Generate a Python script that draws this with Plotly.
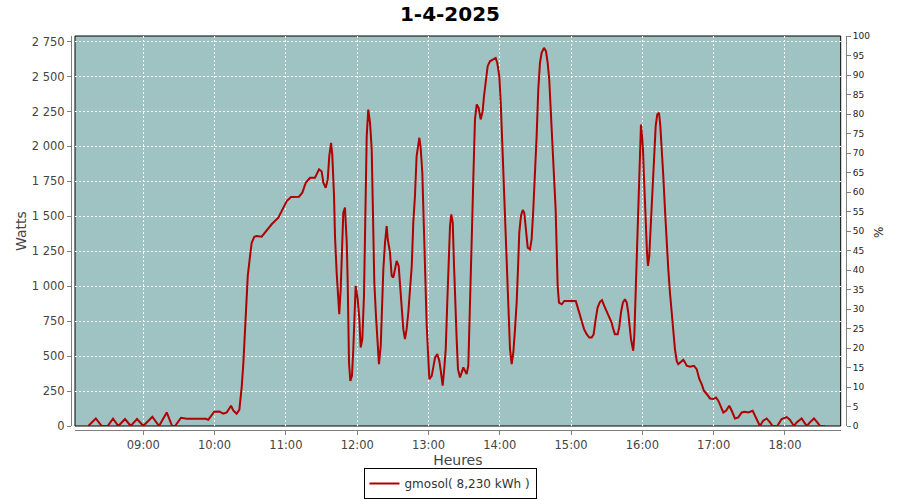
import pandas as pd
import plotly.graph_objects as go

# minutes since midnight (1-4-2025)
minutes = [
    493.7, 500, 505, 510, 514.5, 519, 524.6, 529.4, 534.7, 540,
    547.6, 553.2, 559.7, 564.2, 566.7, 571.7, 576.5, 592.5, 594.7, 599.7,
    603.9, 607.3, 610.2, 613.8, 615.7, 618.5, 620.8, 622.8, 624.2, 626.2,
    627.9, 629.8, 631.2, 633.4, 635.4, 639.6, 642.4, 648, 653.6, 657.8,
    660.7, 664.3, 671, 673.8, 676.7, 680.3, 684.5, 687.9, 690.1, 691.5,
    693.5, 695.2, 696.5, 698, 699, 700.5, 701.3, 702.7, 704.1, 704.9,
    706.1, 707, 708.3, 709.7, 711.2, 712, 713.1, 714.2, 715.6, 716.7,
    717.6, 718.7, 720.4, 721.8, 722.9, 724.3, 725.7, 726.6, 728, 729.3,
    730.8, 732.2, 733.3, 734.4, 735.8, 737.2, 738.3, 739.8, 740.6, 742,
    743.4, 744.8, 745.7, 747.6, 749, 750.4, 751.8, 753.2, 754.9, 756,
    757.4, 758.8, 760.2, 761.6, 763, 764.4, 765.9, 767.2, 768.6, 770,
    771.4, 772.3, 773.4, 774.8, 775.6, 776.5, 777.6, 778.5, 779.6, 780.7,
    782.7, 784, 785.5, 787.4, 789.1, 790.5, 791.9, 793, 794.5, 795.8,
    797, 798.1, 799.2, 800.4, 801.5, 802.5, 803.7, 804.8, 806.5, 807.9,
    809.3, 810.7, 812.1, 813.5, 814.3, 815.5, 816.6, 817.7, 819.1, 820.6,
    822.2, 823.9, 825.6, 826.7, 828.4, 829.8, 831.7, 834.5, 836.5, 837.9,
    839.6, 840.8, 841.8, 842.9, 844.4, 845.2, 846.3, 847.5, 848.6, 850,
    851.4, 852.8, 854.2, 855.3, 856.4, 857.8, 859.3, 860.6, 862, 863.5,
    865.4, 866.8, 868.2, 869.6, 871, 872.4, 873.8, 875.2, 877.2, 878.9,
    880.3, 881.6, 883.1, 884.5, 885.6, 887, 887.9, 888.7, 889.8, 892.1,
    894.3, 896.3, 899.1, 901.8, 903.9, 905.6, 907.5, 908.9, 910.9, 913.1,
    915.3, 917.3, 919, 920.7, 922.3, 924.3, 926, 927.9, 929.9, 932.1,
    934.1, 935.5, 936.9, 939.2, 940.5, 942, 943.6, 945.3, 946.8, 948.1,
    949.3, 950.4, 951.5, 952.3, 953.2, 953.8, 954.6, 955.4, 956.3, 957.1,
    958, 958.8, 959.7, 960.5, 961.3, 962.2, 963, 963.9, 964.7, 965.8,
    966.6, 967.8, 968.7, 969.8, 971.2, 972.5, 974, 975.1, 976.3, 977.6,
    979, 980.4, 981.8, 983.2, 984.6, 986, 987.4, 988.9, 990.2, 991.9,
    994.4, 995.9, 997.3, 1000.1, 1003.4, 1005.7, 1007.9, 1009.9, 1011.8, 1014.1,
    1016.9, 1019.7, 1021.9, 1023.9, 1025.9, 1028.1, 1030.4, 1033.1, 1035.2, 1037.9,
    1040.7, 1043.6, 1046.3, 1049.1, 1052.8, 1054.8, 1057, 1058.9, 1061.7, 1064.6,
    1067.4, 1069.6, 1073.5, 1077.2, 1081.4, 1084.1, 1087.6, 1089.8, 1094, 1098.3,
    1101, 1104.4, 1107.2, 1109.5, 1113.6,
]

watts = [
    0, 54, 0, 0, 52, 0, 50, 0, 50, 0,
    66, 0, 97, 0, 0, 59, 52, 52, 45, 102,
    104, 88, 97, 145, 112, 88, 116, 280, 450, 750,
    1074, 1216, 1311, 1354, 1359, 1354, 1383, 1443, 1490, 1562,
    1609, 1638, 1640, 1669, 1740, 1776, 1776, 1836, 1821, 1740,
    1704, 1764, 1931, 2026, 1943, 1645, 1359, 1097, 907, 800,
    979, 1264, 1526, 1562, 1311, 1026, 454, 323, 359, 550,
    740, 1002, 907, 764, 562, 621, 931, 1336, 2074, 2264,
    2169, 1979, 1431, 1026, 788, 550, 443, 574, 788, 1121,
    1311, 1431, 1336, 1240, 1074, 1062, 1121, 1181, 1145, 1002,
    836, 693, 621, 693, 812, 979, 1145, 1455, 1645, 1931,
    2026, 2062, 1990, 1812, 1574, 1264, 955, 716, 526, 336,
    359, 431, 490, 514, 466, 383, 288, 383, 550, 883,
    1240, 1431, 1514, 1455, 1145, 859, 621, 407, 347, 383,
    419, 395, 371, 431, 645, 979, 1407, 1764, 2193, 2300,
    2276, 2193, 2252, 2359, 2502, 2574, 2609, 2621, 2633, 2597,
    2502, 2312, 2074, 1788, 1479, 1216, 955, 716, 550, 443,
    526, 693, 883, 1121, 1383, 1502, 1545, 1526, 1383, 1276,
    1264, 1336, 1550, 1788, 2074, 2407, 2597, 2669, 2705, 2681,
    2597, 2479, 2240, 2050, 1788, 1550, 1264, 1002, 883, 871,
    895, 895, 890, 895, 895, 847, 788, 740, 693, 657,
    633, 633, 657, 764, 847, 888, 900, 859, 824, 776,
    740, 693, 657, 657, 705, 812, 883, 907, 883, 812,
    693, 621, 574, 538, 645, 812, 1074, 1264, 1479, 1812,
    2050, 2157, 2074, 1979, 1788, 1597, 1359, 1240, 1145, 1216,
    1359, 1574, 1764, 1979, 2145, 2229, 2240, 2145, 2002, 1788,
    1550, 1311, 1121, 955, 812, 669, 550, 466, 443, 455,
    474, 455, 431, 424, 431, 407, 336, 300, 252, 229,
    197, 193, 204, 181, 145, 97, 109, 145, 109, 54,
    62, 97, 102, 97, 109, 74, 26, 0, 38, 54,
    26, 0, 0, 50, 64, 45, 0, 26, 54, 0,
    26, 54, 26, 0, 0,
]

series_name = "gmosol( 8,230 kWh )"
chart_title = "1-4-2025"
day = "2025-04-01"
x_start, x_end = "2025-04-01 08:02:30", "2025-04-01 18:46:54"
hour_ticks = ["09:00", "10:00", "11:00", "12:00", "13:00", "14:00",
              "15:00", "16:00", "17:00", "18:00"]
watt_ticks = [0, 250, 500, 750, 1000, 1250, 1500, 1750, 2000, 2250, 2500, 2750]
pct_ticks = list(range(0, 101, 5))

times = pd.Timestamp(day) + pd.to_timedelta(minutes, unit="m")
tick_vals = [pd.Timestamp(f"{day} {h}") for h in hour_ticks]

FONT = "DejaVu Sans"
fig = go.Figure()
fig.add_trace(go.Scatter(
    x=times, y=watts, mode="lines", name=series_name,
    line=dict(color="#B00000", width=2), yaxis="y",
))
# invisible trace to activate right axis
fig.add_trace(go.Scatter(x=[times[0]], y=[0], yaxis="y2", mode="lines",
                         showlegend=False, hoverinfo="skip",
                         line=dict(width=0, color="rgba(0,0,0,0)")))

fig.update_layout(
    width=900, height=500,
    margin=dict(l=71, r=54, t=36, b=70, autoexpand=False),
    paper_bgcolor="white",
    plot_bgcolor="#9FC3C2",
    separators=". ",
    font=dict(family=FONT, color="#444444", size=12),
    title=dict(text=chart_title, x=0.5, xanchor="center", y=1 - 14 / 500,
               yanchor="middle", yref="container",
               font=dict(family=FONT, size=20, color="black", weight="bold")),
    xaxis=dict(
        domain=[4 / 775, 769.7 / 775], anchor="free", position=0,
        type="date", range=[x_start, x_end], automargin=False,
        tickvals=tick_vals, ticktext=hour_ticks,
        showline=True, linecolor="#808080", linewidth=1,
        ticks="outside", ticklen=4, tickcolor="#808080",
        showgrid=True, gridcolor="white", griddash="2px,2px", gridwidth=1,
        zeroline=False,
        tickfont=dict(size=11.5, color="#444444"),
        title=dict(text="Heures", font=dict(size=14, color="#444444"), standoff=8),
    ),
    yaxis=dict(
        domain=[4 / 394, 1], anchor="free", position=0, automargin=False,
        range=[0, 2790], tickvals=watt_ticks, separatethousands=True,
        tickformat=",d",
        showline=True, linecolor="#808080", linewidth=1,
        ticks="outside", ticklen=4, tickcolor="#808080",
        showgrid=True, gridcolor="white", griddash="2px,2px", gridwidth=1,
        zeroline=False,
        tickfont=dict(size=11.5, color="#444444"),
        title=dict(text="Watts", font=dict(size=14, color="#444444"), standoff=0),
    ),
    yaxis2=dict(
        overlaying="y", side="right", anchor="free", position=1, automargin=False,
        range=[0, 100], tickvals=pct_ticks,
        showline=True, linecolor="#808080", linewidth=1,
        ticks="outside", ticklen=4, tickcolor="#808080",
        showgrid=False, zeroline=False,
        tickfont=dict(size=9, color="#222222"),
    ),
    showlegend=True,
    legend=dict(
        orientation="h", xref="container", yref="container",
        x=0.5, xanchor="center", y=1 / 500, yanchor="bottom",
        bgcolor="white", bordercolor="black", borderwidth=1,
        font=dict(size=12, color="#333333"),
        itemwidth=30,
    ),
    annotations=[dict(text="%", xref="paper", yref="paper", x=1, xshift=42,
                      y=0.5, showarrow=False, textangle=-90,
                      font=dict(size=12, color="#222222"))],
    shapes=[dict(type="rect", xref="x domain", yref="y domain",
                 x0=0, x1=1, y0=0, y1=1, layer="below",
                 line=dict(color="black", width=1))],
)

fig.write_html("out.html", config={"displayModeBar": False},
               post_script="document.body.style.margin='0';document.body.style.padding='0';")
